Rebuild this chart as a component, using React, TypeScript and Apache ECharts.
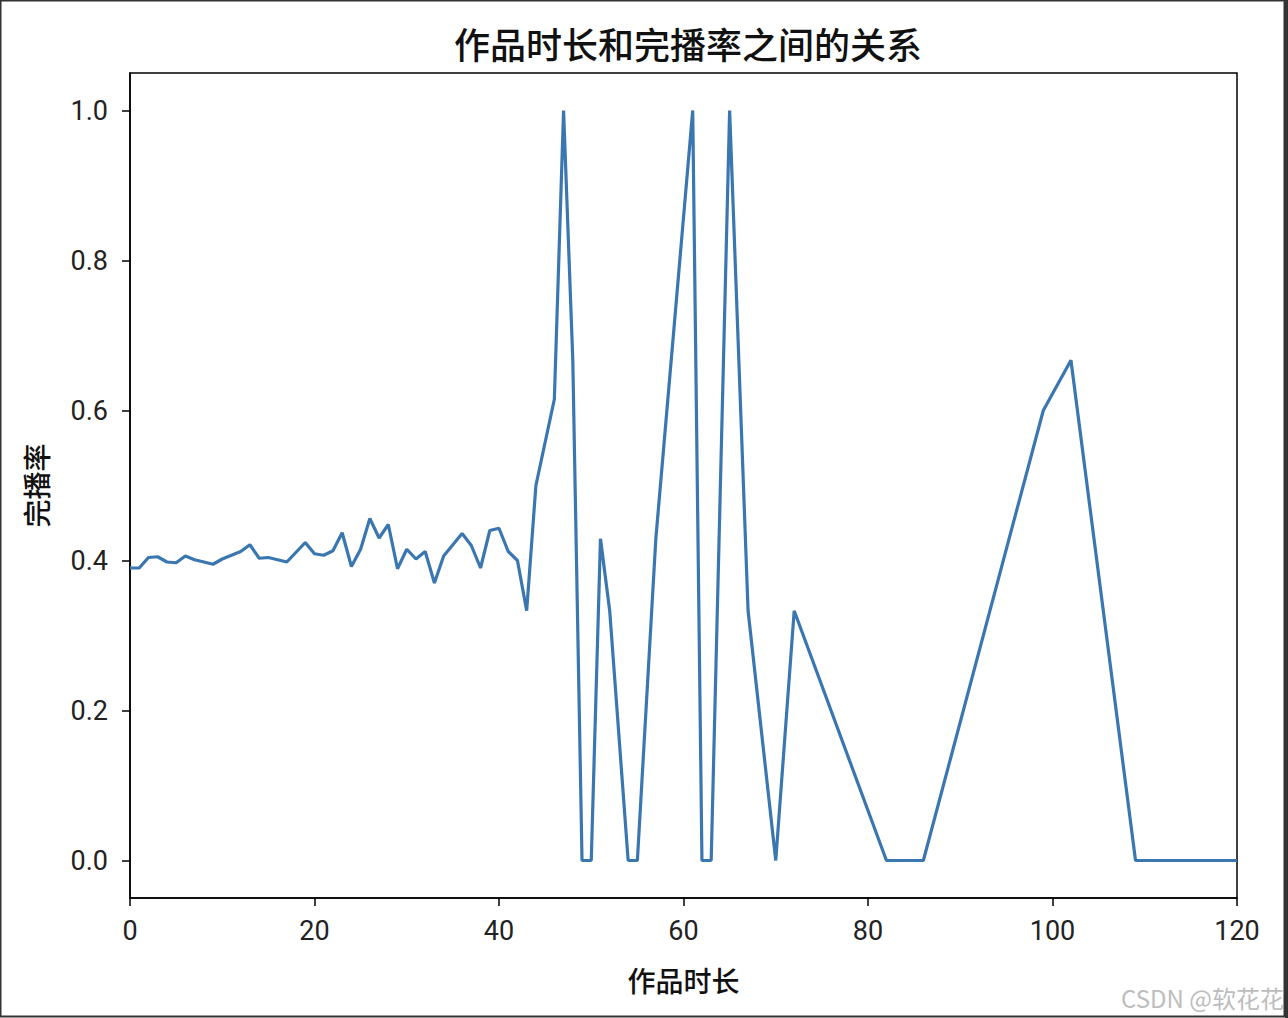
import React, { useEffect, useRef } from "react";
import * as echarts from "echarts";

const durations = [0, 1, 2, 3, 4, 5, 6, 7, 9, 10, 12, 13, 14, 15, 17, 19, 20, 21, 22, 23, 24, 25, 26, 27, 28, 29, 30, 31, 32, 33, 34, 35, 36, 37, 38, 39, 40, 41, 42, 43, 44, 46, 47, 48, 49, 50, 51, 52, 54, 55, 57, 61, 62, 63, 65, 67, 70, 72, 82, 86, 99, 102, 109, 120];
const completionRates = [0.39, 0.39, 0.404, 0.405, 0.398, 0.397, 0.406, 0.401, 0.395, 0.402, 0.412, 0.421, 0.403, 0.404, 0.398, 0.424, 0.409, 0.407, 0.413, 0.437, 0.392, 0.415, 0.456, 0.43, 0.448, 0.389, 0.415, 0.402, 0.412, 0.37, 0.406, 0.421, 0.436, 0.42, 0.39, 0.44, 0.443, 0.412, 0.4, 0.333, 0.5, 0.615, 1.0, 0.667, 0, 0, 0.429, 0.333, 0, 0, 0.429, 1.0, 0, 0, 1.0, 0.333, 0, 0.333, 0, 0, 0.6, 0.667, 0, 0];
const yTicks = [0, 0.2, 0.4, 0.6, 0.8, 1.0];
const xTicks = [0, 20, 40, 60, 80, 100, 120];

const titleText = "作品时长和完播率之间的关系";
const xName = "作品时长";
const yName = "完播率";
const watermark = "CSDN @软花花";

export default function App() {
  const ref = useRef<HTMLDivElement>(null);
  useEffect(() => {
    if (!ref.current) return;
    const chart = echarts.init(ref.current, null, { renderer: "svg" });
    const numFont = "Roboto, 'DejaVu Sans', sans-serif";
    const cjkFont = "'Noto Sans CJK SC', sans-serif";
    chart.setOption({
      animation: false,
      backgroundColor: "#ffffff",
      title: {
        text: titleText,
        left: 683,
        textAlign: "center",
        top: 20,
        textStyle: { fontFamily: cjkFont, fontSize: 36, fontWeight: 500, color: "#111" },
      },
      grid: {
        left: 130,
        top: 73,
        right: 51,
        bottom: 120,
        show: true,
        borderColor: "#000",
        borderWidth: 1.5,
        backgroundColor: "transparent",
      },
      xAxis: {
        type: "value",
        min: 0,
        max: 120,
        interval: 20,
        name: xName,
        nameLocation: "middle",
        nameGap: 68,
        nameTextStyle: { fontFamily: cjkFont, fontSize: 28, fontWeight: 500, color: "#111" },
        axisLine: { show: true, onZero: false, lineStyle: { color: "#000", width: 1.5 } },
        axisTick: { show: true, inside: false, length: 8, customValues: xTicks, lineStyle: { color: "#000", width: 1.5 } },
        axisLabel: { customValues: xTicks, margin: 19, fontFamily: numFont, fontSize: 27, color: "#222" },
        splitLine: { show: false },
      },
      yAxis: {
        type: "value",
        min: -0.05,
        max: 1.05,
        name: yName,
        nameLocation: "middle",
        nameRotate: 90,
        nameGap: 80,
        nameTextStyle: { fontFamily: cjkFont, fontSize: 28, fontWeight: 500, color: "#111" },
        axisLine: { show: true, onZero: false, lineStyle: { color: "#000", width: 1.5 } },
        axisTick: { show: true, inside: false, length: 8, customValues: yTicks, lineStyle: { color: "#000", width: 1.5 } },
        axisLabel: {
          customValues: yTicks,
          margin: 22,
          fontFamily: numFont,
          fontSize: 27,
          color: "#222",
          formatter: (v: number) => v.toFixed(1),
        },
        splitLine: { show: false },
      },
      series: [
        {
          type: "line",
          data: durations.map((d, i) => [d, completionRates[i]]),
          showSymbol: false,
          symbol: "none",
          lineStyle: { color: "#3A76B0", width: 3.2 },
          clip: true,
        },
      ],
      graphic: [
        {
          type: "text",
          x: 1121,
          y: 997,
          style: {
            text: watermark,
            fontFamily: "'Noto Sans CJK SC', sans-serif",
            fontSize: 24,
            fill: "#bdbdbd",
            verticalAlign: "middle",
          },
          silent: true,
        },
        {
          type: "rect",
          shape: { x: 0.5, y: 0.5, width: 1284, height: 1016 },
          style: { fill: "none", stroke: "#333", lineWidth: 2 },
          silent: true,
        },
        {
          type: "rect",
          shape: { x: 1285, y: 0, width: 3, height: 1018 },
          style: { fill: "#333" },
          silent: true,
        },
      ],
    });
    return () => chart.dispose();
  }, []);
  return (
    <div
      ref={ref}
      style={{ position: "fixed", left: 0, top: 0, width: 1288, height: 1018, background: "#fff" }}
    />
  );
}
